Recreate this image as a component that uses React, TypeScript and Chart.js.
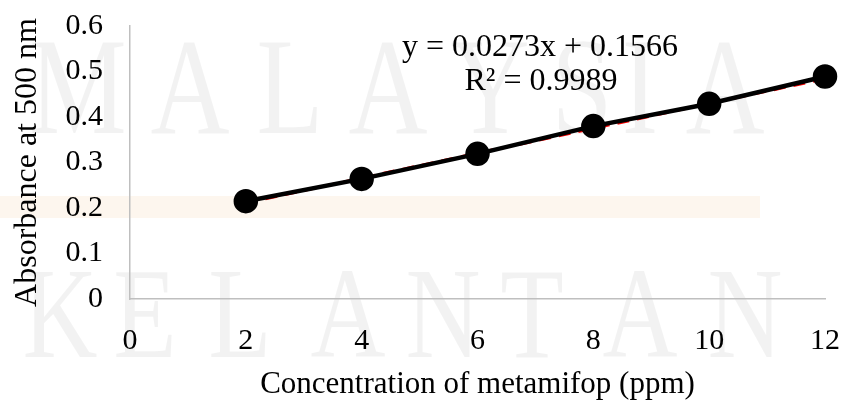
import React, { useEffect, useRef } from "react";
import { Chart, registerables } from "chart.js";

Chart.register(...registerables);

// ---- data ----
const concentrations = [2, 4, 6, 8, 10, 12];
const absorbance = [0.215, 0.264, 0.319, 0.38, 0.429, 0.489];
const trendSlope = 0.0273;
const trendIntercept = 0.1566;
const trendRange = [2, 12];
const xTickValues = [0, 2, 4, 6, 8, 10, 12];
const yTickValues = [0, 0.1, 0.2, 0.3, 0.4, 0.5, 0.6];
const equationLines = ["y = 0.0273x + 0.1566", "R² = 0.9989"];
const xTitle = "Concentration of metamifop (ppm)";
const yTitle = "Absorbance at 500 nm";
const watermarkTop = "MALAYSIA";
const watermarkBottom = "KELANTAN";

const SERIF = "'Liberation Serif', 'Times New Roman', serif";

const backgroundPlugin = {
  id: "bgWatermark",
  beforeDraw(chart: any) {
    const ctx = chart.ctx as CanvasRenderingContext2D;
    ctx.save();
    ctx.fillStyle = "#ffffff";
    ctx.fillRect(0, 0, chart.width, chart.height);
    // faint band
    ctx.fillStyle = "#fdf6ee";
    ctx.fillRect(0, 196, 760, 22);
    // watermark letters
    ctx.fillStyle = "rgba(0,0,0,0.05)";
    ctx.textAlign = "center";
    ctx.textBaseline = "alphabetic";
    const topCenters = [78, 190, 290, 388, 490, 582, 640, 725];
    const botCenters = [60, 145, 240, 348, 443, 532, 640, 745];
    const drawWord = (word: string, centers: number[], base: number, size: number) => {
      ctx.font = `${size}px ${SERIF}`;
      word.split("").forEach((ch, i) => {
        ctx.save();
        ctx.translate(centers[i], base);
        ctx.scale(0.8, 1);
        ctx.fillText(ch, 0, 0);
        ctx.restore();
      });
    };
    drawWord(watermarkTop, topCenters, 133, 137);
    drawWord(watermarkBottom, botCenters, 357, 130);
    ctx.restore();
  },
};

const equationPlugin = {
  id: "equationText",
  afterDraw(chart: any) {
    const ctx = chart.ctx as CanvasRenderingContext2D;
    ctx.save();
    ctx.fillStyle = "#000000";
    ctx.font = `32px ${SERIF}`;
    ctx.textAlign = "center";
    ctx.textBaseline = "alphabetic";
    ctx.fillText(equationLines[0], 540, 56);
    ctx.fillText(equationLines[1], 541, 90);
    ctx.restore();
  },
};

export default function App() {
  const canvasRef = useRef<HTMLCanvasElement | null>(null);

  useEffect(() => {
    if (!canvasRef.current) return;
    const points = concentrations.map((x, i) => ({ x, y: absorbance[i] }));
    const trend = trendRange.map((x) => ({ x, y: trendSlope * x + trendIntercept }));

    const chart = new Chart(canvasRef.current, {
      type: "scatter",
      data: {
        datasets: [
          {
            label: "Absorbance",
            data: points,
            showLine: true,
            borderColor: "#000000",
            backgroundColor: "#000000",
            borderWidth: 4.5,
            pointRadius: 10,
            pointHoverRadius: 10,
            pointBackgroundColor: "#000000",
            pointBorderColor: "#000000",
            clip: false as any,
            order: 1,
          },
          {
            label: "Linear trend",
            data: trend,
            showLine: true,
            borderColor: "#ff0000",
            borderWidth: 3,
            borderDash: [12, 8],
            pointRadius: 0,
            clip: false as any,
            order: 2,
          },
        ],
      },
      options: {
        responsive: false,
        animation: false,
        events: [],
        layout: { padding: { left: 10, right: 20, top: 26, bottom: 0 } },
        plugins: {
          legend: { display: false },
          tooltip: { enabled: false },
        },
        scales: {
          x: {
            type: "linear",
            min: 0,
            max: 12,
            afterBuildTicks: (scale: any) => {
              scale.ticks = xTickValues.map((v) => ({ value: v }));
            },
            afterFit: (scale: any) => {
              scale.height = 101;
              scale.paddingLeft = 0;
              scale.paddingRight = 0;
            },
            grid: { display: false, drawTicks: false },
            border: { display: true, color: "#bfbfbf", width: 1.5 },
            ticks: {
              color: "#000000",
              font: { family: SERIF, size: 30, lineHeight: 1.2 },
              padding: 24,
              maxRotation: 0,
              autoSkip: false,
              callback: (v: any) => String(v),
            },
            title: {
              display: true,
              text: xTitle,
              color: "#000000",
              font: { family: SERIF, size: 31, lineHeight: 1 },
              padding: { top: 0, bottom: 0 },
            },
          },
          y: {
            type: "linear",
            min: 0,
            max: 0.6,
            afterBuildTicks: (scale: any) => {
              scale.ticks = yTickValues.map((v) => ({ value: v }));
            },
            afterFit: (scale: any) => {
              scale.width = 120;
              scale.paddingTop = 0;
              scale.paddingBottom = 0;
            },
            grid: { display: false, drawTicks: false },
            border: { display: true, color: "#bfbfbf", width: 1.5 },
            ticks: {
              color: "#000000",
              font: { family: SERIF, size: 30, lineHeight: 1.2 },
              padding: 27,
              autoSkip: false,
              callback: (v: any) => String(Number(Number(v).toFixed(1))),
            },
            title: {
              display: true,
              text: yTitle,
              color: "#000000",
              font: { family: SERIF, size: 32, lineHeight: 1 },
              padding: { top: 2, bottom: 0 },
            },
          },
        },
      },
      plugins: [backgroundPlugin, equationPlugin],
    });

    return () => chart.destroy();
  }, []);

  return (
    <div style={{ position: "absolute", left: 0, top: 0, width: 845, height: 400, background: "#ffffff" }}>
      <canvas ref={canvasRef} width={845} height={400} style={{ display: "block", width: 845, height: 400 }} />
    </div>
  );
}
